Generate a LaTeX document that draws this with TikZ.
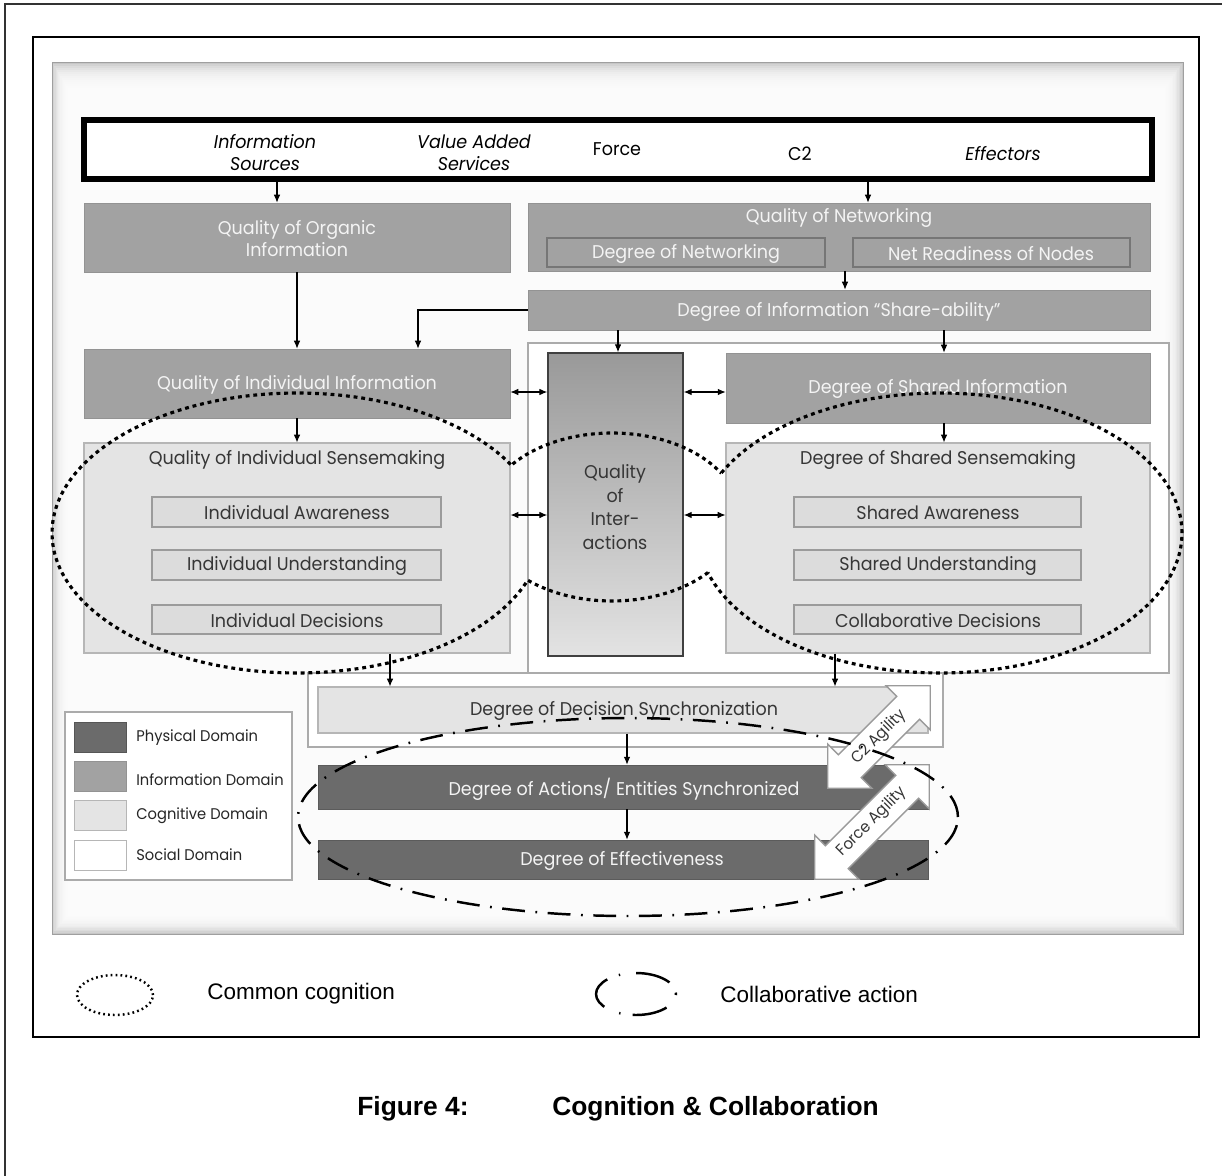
\documentclass[tikz,border=0pt]{standalone}
\usepackage{fontspec}
\setmainfont{Liberation Sans}
\newfontfamily\dg[FakeStretch=0.95]{Poppins}
\usetikzlibrary{arrows.meta,fit,shapes.arrows}

\definecolor{infog}{HTML}{A2A2A2}
\definecolor{infoline}{HTML}{939393}
\definecolor{physg}{HTML}{6B6B6B}
\definecolor{cogg}{HTML}{E4E4E4}
\definecolor{cogline}{HTML}{B6B6B6}
\definecolor{socline}{HTML}{ABABAB}
\definecolor{darktxt}{HTML}{363636}
\definecolor{lighttxt}{HTML}{F4F4F4}
\definecolor{agline}{HTML}{9A9A9A}

\newcommand\dgsz{\fontsize{10.5}{12.5}\selectfont}

\tikzset{
  lbl/.style={font=\dg\dgsz, inner sep=0pt, align=center},
  ltxt/.style={lbl, text=lighttxt},
  dtxt/.style={lbl, text=darktxt},
  infobox/.style={fill=infog, draw=infoline, line width=0.4pt, inner sep=0pt},
  subnet/.style={infobox, draw=infoline!80!black, line width=0.6pt},
  cogbox/.style={fill=cogg, draw=cogline, line width=0.6pt, inner sep=0pt},
  subcog/.style={cogbox, fill=cogg!92!gray, draw=cogline!85!black},
  physbox/.style={fill=physg, draw=physg!85!black, line width=0.4pt, inner sep=0pt},
  socbox/.style={fill=white, draw=socline, line width=0.6pt, inner sep=0pt},
  arr/.style={-{Latex[length=4.5pt,width=3.8pt]}, line width=0.6pt},
  darr/.style={{Latex[length=4.5pt,width=3.8pt]}-{Latex[length=4.5pt,width=3.8pt]}, line width=0.6pt},
  agil/.style={double arrow, double arrow head extend=8.5pt, fill=white, draw=agline,
               line width=0.8pt, rotate=45, inner xsep=0pt, inner ysep=4.2pt,
               font=\dg\fontsize{9}{10}\selectfont, text=darktxt},
  legtxt/.style={font=\dg\fontsize{8.8}{10}\selectfont, text=black!85, inner sep=0pt, anchor=west},
  cogdots/.style={line width=1.8pt, dash pattern=on 2.2pt off 2.2pt},
  actdash/.style={line width=1.4pt, dash pattern=on 13pt off 6pt on 1pt off 6pt},
}

\begin{document}
\begin{tikzpicture}[x=0.02cm,y=-0.02cm]
\useasboundingbox (0,0) rectangle (1222,1175);
\fill[white] (0,0) rectangle (1222,1175);

% page frames
\draw[line width=0.7pt, black!80] (5,1180) -- (5,4) -- (1230,4);
\draw[line width=1.6pt] (33,37) rectangle (1199,1037);

% framed panel with soft edges
\fill[gray!45] (52,62) rectangle (1183,934);
\foreach \i in {1,...,18} {
  \fill[white, fill opacity=0.22] ({52+\i*1.2},{62+\i*2}) rectangle ({1183-\i*1.4},{934-\i*1.4});
}
\draw[gray!75, line width=0.5pt] (52,62) rectangle (1183,934);

% helper abscissas / ordinates
\coordinate (x277) at (277,0);
\coordinate (x868) at (868,0);
\coordinate (x845) at (845,0);
\coordinate (x418) at (418,0);
\coordinate (x618) at (618,0);
\coordinate (x944) at (944,0);
\coordinate (x390) at (390,0);
\coordinate (x835) at (835,0);
\coordinate (x627) at (627,0);
\coordinate (y392) at (0,392);
\coordinate (y515) at (0,515);

% source strip
\node[draw, line width=3.4pt, fill=white, inner sep=0pt, fit={(84,120) (1152,179)}] (src) {};
\node[lbl, font=\dg\itshape\dgsz] (srcinfo) at (265,153) {Information\\Sources};
\node[lbl, font=\dg\itshape\dgsz] (srcvas) at (474,153) {Value Added\\Services};
\node[lbl] (srcforce) at (617,149) {Force};
\node[lbl] (srcctwo) at (800,154) {C2};
\node[lbl, font=\dg\itshape\dgsz] (srceff) at (1003,154) {Effectors};

% information domain
\node[infobox, fit={(84,203) (510,272)}] (organic) {};
\node[ltxt] (organict) at (297,239) {Quality of Organic\\Information};
\node[infobox, fit={(528,203) (1150,271)}] (netq) {};
\node[ltxt] (netqt) at (839,218) {Quality of Networking};
\node[subnet, fit={(547,238) (825,267)}] (degnet) {};
\node[ltxt] (degnett) at (686,254) {Degree of Networking};
\node[subnet, fit={(853,238) (1130,267)}] (netready) {};
\node[ltxt] (netreadyt) at (991,254) {Net Readiness of Nodes};
\node[infobox, fit={(528,290) (1150,330)}] (share) {};
\node[ltxt] (sharet) at (839,312) {Degree of Information “Share-ability”};

% social domain
\node[socbox, fit={(528,343) (1169,673)}] (social) {};
\node[socbox, fit={(308,673) (943,747)}] (socsync) {};

\node[infobox, fit={(84,349) (510,418)}] (indinfo) {};
\node[ltxt] (indinfot) at (297,385) {Quality of Individual Information};
\node[infobox, fit={(726,353) (1150,423)}] (shinfo) {};
\node[ltxt] (shinfot) at (938,389) {Degree of Shared Information};

\node[inner sep=0pt, draw=black!75, line width=0.9pt, top color=black!40, bottom color=black!11,
      fit={(548,353) (683,656)}] (inter) {};
\node[dtxt, font=\dg\fontsize{10.5}{13.4}\selectfont] (intert) at (615,507) {Quality\\of\\Inter-\\actions};

% cognitive domain
\node[cogbox, fit={(84,443) (510,653)}] (indsense) {};
\node[dtxt] (indsenset) at (297,460) {Quality of Individual Sensemaking};
\node[subcog, fit={(152,497) (441,527)}] (indaw) {};
\node[dtxt] (indawt) at (297,513) {Individual Awareness};
\node[subcog, fit={(152,550) (441,580)}] (indun) {};
\node[dtxt] (indunt) at (297,566) {Individual Understanding};
\node[subcog, fit={(152,605) (441,634)}] (inddec) {};
\node[dtxt] (inddect) at (297,621) {Individual Decisions};

\node[cogbox, fit={(726,443) (1150,653)}] (shsense) {};
\node[dtxt] (shsenset) at (938,460) {Degree of Shared Sensemaking};
\node[subcog, fit={(794,497) (1081,527)}] (shaw) {};
\node[dtxt] (shawt) at (938,513) {Shared Awareness};
\node[subcog, fit={(794,550) (1081,580)}] (shun) {};
\node[dtxt] (shunt) at (938,566) {Shared Understanding};
\node[subcog, fit={(794,605) (1081,634)}] (coldec) {};
\node[dtxt] (coldect) at (938,621) {Collaborative Decisions};

\node[cogbox, fit={(318,687) (928,733)}] (sync) {};
\node[dtxt] (synct) at (624,711) {Degree of Decision Synchronization};

% physical domain
\node[physbox, fit={(318,765) (928,809)}] (acts) {};
\node[ltxt] (actst) at (624,789) {Degree of Actions/ Entities Synchronized};
\node[physbox, fit={(318,840) (928,879)}] (effect) {};
\node[ltxt] (effectt) at (622,861) {Degree of Effectiveness};

% connectors
\draw[arr] (src.south -| x277) -- (organic.north -| x277);
\draw[arr] (src.south -| x868) -- (netq.north -| x868);
\draw[arr] (netq.south -| x845) -- (share.north -| x845);
\draw[arr] (organic.south) -- (indinfo.north);
\draw[arr] (share.west) -| (indinfo.north -| x418);
\draw[arr] (share.south -| x618) -- (inter.north -| x618);
\draw[arr] (share.south -| x944) -- (shinfo.north -| x944);
\draw[darr] (indinfo.east |- y392) -- (inter.west |- y392);
\draw[darr] (inter.east |- y392) -- (shinfo.west |- y392);
\draw[darr] (indsense.east |- y515) -- (inter.west |- y515);
\draw[darr] (inter.east |- y515) -- (shsense.west |- y515);
\draw[arr] (indinfo.south) -- (indsense.north);
\draw[arr] (shinfo.south -| x944) -- (shsense.north -| x944);
\draw[arr] (indsense.south -| x390) -- (sync.north -| x390);
\draw[arr] (shsense.south -| x835) -- (sync.north -| x835);
\draw[arr] (sync.south -| x627) -- (acts.north -| x627);
\draw[arr] (acts.south -| x627) -- (effect.north -| x627);

% agility arrows
\node[agil, minimum height=2.9cm] (ctwoag) at (879,737) {C2 Agility};
\node[agil, minimum height=3.24cm] (forceag) at (872,822) {Force Agility};

% domain key
\node[fill=white, draw=socline, line width=0.6pt, inner sep=0pt, fit={(65,712) (292,880)}] (legend) {};
\node[fill=physg, draw=physg!80!black, line width=0.5pt, inner sep=0pt, fit={(74,722) (126,752)}] (swphys) {};
\node[fill=infog, draw=infoline, line width=0.5pt, inner sep=0pt, fit={(74,761) (126,791)}] (swinfo) {};
\node[fill=cogg, draw=cogline, line width=0.5pt, inner sep=0pt, fit={(74,800) (126,830)}] (swcog) {};
\node[fill=white, draw=cogline, line width=0.5pt, inner sep=0pt, fit={(74,840) (126,870)}] (swsoc) {};
\node[legtxt] (lphys) at (136,738) {Physical Domain};
\node[legtxt] (linfo) at (136,780) {Information Domain};
\node[legtxt] (lcog) at (136,816) {Cognitive Domain};
\node[legtxt] (lsoc) at (136,855) {Social Domain};

% common cognition: outline of three overlapping ellipses
\begin{scope}[even odd rule]
  \clip (0,0) rectangle (1222,1175) (612,517) ellipse [x radius=2.56cm, y radius=1.68cm];
  \draw[cogdots] (297,533) ellipse [x radius=4.9cm, y radius=2.8cm];
  \draw[cogdots] (940,533) ellipse [x radius=4.84cm, y radius=2.8cm];
\end{scope}
\begin{scope}[even odd rule]
  \clip (0,0) rectangle (1222,1175) (297,533) ellipse [x radius=4.9cm, y radius=2.8cm];
  \begin{scope}[even odd rule]
    \clip (0,0) rectangle (1222,1175) (940,533) ellipse [x radius=4.84cm, y radius=2.8cm];
    \draw[cogdots] (612,517) ellipse [x radius=2.56cm, y radius=1.68cm];
  \end{scope}
\end{scope}

% collaborative action
\draw[actdash] (628,817) ellipse [x radius=6.6cm, y radius=1.98cm];

% line-style key
\draw[line width=1.4pt, dash pattern=on 1pt off 1.8pt] (115,995) ellipse [x radius=0.76cm, y radius=0.4cm];
\node[anchor=west, inner sep=0pt, font=\fontsize{12.8}{15}\selectfont] (lcc) at (207,994) {Common cognition};
\draw[line width=1.4pt, dash pattern=on 0.8pt off 7pt on 20pt off 9.2pt] (636,994) ellipse [x radius=0.8cm, y radius=0.42cm];
\node[anchor=west, inner sep=0pt, font=\fontsize{12.8}{15}\selectfont] (lca) at (720,994) {Collaborative action};

% caption
\node[anchor=west, inner sep=0pt, font=\bfseries\fontsize{15}{18}\selectfont] (figno) at (357,1109) {Figure 4:};
\node[anchor=west, inner sep=0pt, font=\bfseries\fontsize{15}{18}\selectfont] (figtitle) at (552,1109) {Cognition \& Collaboration};
\end{tikzpicture}
\end{document}
